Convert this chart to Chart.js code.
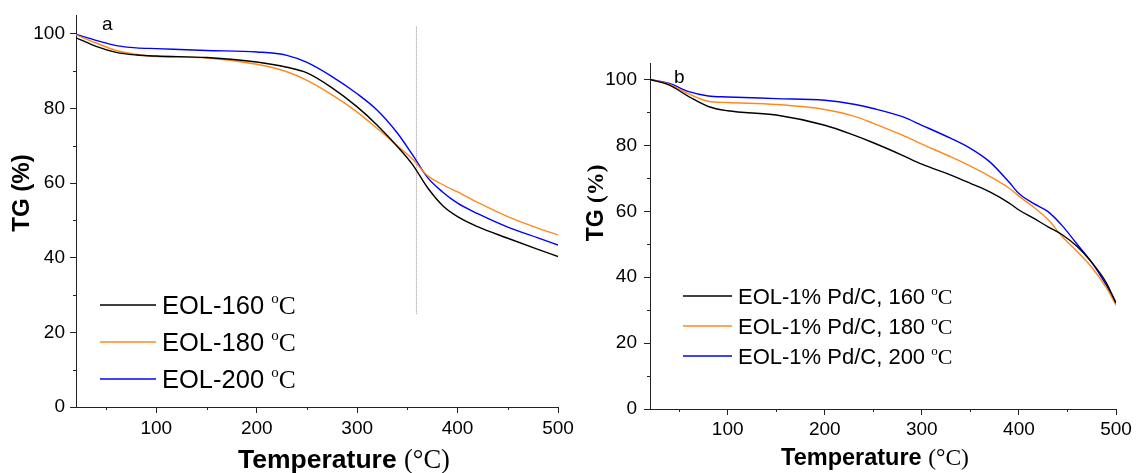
<!DOCTYPE html>
<html>
<head>
<meta charset="utf-8">
<script src="https://cdn.jsdelivr.net/npm/chart.js@4.4.1/dist/chart.umd.min.js"></script>
<style>
  html, body { margin: 0; padding: 0; background: #fff; overflow: hidden; }
  #wrap { position: relative; width: 1137px; height: 473px; }
  canvas { position: absolute; top: 0; }
  #ca { left: 0; }
  #cb { left: 575px; }
</style>
</head>
<body>
<div id="wrap">
  <canvas id="ca" width="575" height="473"></canvas>
  <canvas id="cb" width="562" height="473"></canvas>
</div>
<script>
// ---- Panel a: TG curves of EOL samples ----
const tempA = [20, 40, 60, 80, 100, 150, 200, 230, 250, 275, 300, 320, 340, 355, 370, 385, 400, 420, 450, 480, 500];
const tgA160 = [98.9, 96.6, 95.0, 94.3, 94.0, 93.6, 92.4, 91.0, 89.5, 85.5, 80.4, 75.5, 69.8, 65.0, 58.8, 54.0, 51.0, 48.3, 45.2, 42.2, 40.3];
const tgA180 = [99.7, 97.5, 95.5, 94.5, 93.9, 93.5, 91.8, 89.8, 87.5, 83.6, 79.0, 74.6, 70.0, 66.4, 62.0, 59.6, 57.6, 54.8, 51.0, 47.9, 46.1];
const tgA200 = [99.8, 98.2, 96.8, 96.2, 96.0, 95.5, 95.1, 94.2, 92.3, 88.5, 83.9, 79.5, 73.4, 67.6, 61.5, 57.6, 54.6, 51.8, 48.2, 45.3, 43.4];
const markerTemp = 359;
const markerRange = [25, 102];

// ---- Panel b: TG curves of EOL-1% Pd/C samples ----
const tempB = [20, 40, 60, 80, 100, 150, 200, 230, 250, 280, 300, 330, 350, 370, 390, 400, 415, 430, 445, 460, 475, 490, 500];
const tgB160 = [100, 98.3, 94.8, 91.8, 90.5, 89.2, 86.1, 83.1, 80.8, 77.0, 74.3, 71.0, 68.5, 65.9, 62.5, 60.4, 57.9, 55.3, 52.8, 49.3, 44.5, 38.3, 32.1];
const tgB180 = [100, 98.5, 95.6, 93.4, 93.0, 92.4, 90.9, 88.9, 86.7, 83.1, 80.4, 76.5, 73.7, 70.6, 67.0, 64.6, 61.3, 57.5, 52.2, 47.8, 43.0, 36.8, 31.5];
const tgB200 = [100, 98.8, 96.3, 95.0, 94.7, 94.2, 93.7, 92.5, 91.2, 88.7, 86.1, 82.1, 79.1, 75.0, 68.8, 65.4, 62.4, 59.9, 55.5, 50.0, 44.5, 37.6, 32.3];

const xTicks = [100, 200, 300, 400, 500];
const xMinor = [50, 150, 250, 350, 450];
const yTicks = [0, 20, 40, 60, 80, 100];
const yMinor = [10, 30, 50, 70, 90];

const labelsA = ['EOL-160', 'EOL-180', 'EOL-200'];
const labelsB = ['EOL-1% Pd/C, 160', 'EOL-1% Pd/C, 180', 'EOL-1% Pd/C, 200'];
const colors = ['#000000', '#ff8a1c', '#0000ff'];

const SANS = '"Liberation Sans", Arial, sans-serif';
const SERIF = '"Liberation Serif", "Times New Roman", serif';
const AXIS = '#222';

function pts(xs, ys) { return xs.map((x, i) => ({ x, y: ys[i] })); }

// draw a row of text pieces with individual fonts / vertical shifts
function drawRuns(ctx, runs, x, y, align) {
  let total = 0;
  runs.forEach(r => { ctx.font = r.font; r.w = ctx.measureText(r.text).width; total += r.w; });
  let cx = align === 'center' ? x - total / 2 : x;
  ctx.textBaseline = 'alphabetic';
  ctx.textAlign = 'left';
  runs.forEach(r => { ctx.font = r.font; ctx.fillText(r.text, cx, y + (r.dy || 0)); cx += r.w; });
}

function degC(size) {
  return [
    { text: ' ', font: size + 'px ' + SANS },
    { text: 'o', font: Math.round(size * 0.6) + 'px ' + SERIF, dy: -size * 0.42 },
    { text: 'C', font: size + 'px ' + SERIF }
  ];
}

// minor ticks, legend, panel letter and axis titles
const decoPlugin = {
  id: 'deco',
  afterDraw(chart, args, o) {
    const ctx = chart.ctx;
    const xs = chart.scales.x, ys = chart.scales.y;
    const a = chart.chartArea;
    ctx.save();
    ctx.strokeStyle = AXIS;
    ctx.lineWidth = 1;
    ctx.beginPath();
    xMinor.forEach(v => {
      const px = Math.round(xs.getPixelForValue(v)) + 0.5;
      ctx.moveTo(px, a.bottom); ctx.lineTo(px, a.bottom + 3);
    });
    yMinor.forEach(v => {
      const py = Math.round(ys.getPixelForValue(v)) + 0.5;
      ctx.moveTo(a.left, py); ctx.lineTo(a.left - 3, py);
    });
    ctx.stroke();

    ctx.fillStyle = '#000';
    // panel letter
    ctx.font = o.letterSize + 'px ' + SANS;
    ctx.textBaseline = 'alphabetic';
    ctx.fillText(o.letter, o.letterX, o.letterY);

    // legend
    o.legend.labels.forEach((lab, i) => {
      const y = o.legend.y0 + i * o.legend.dy;
      ctx.strokeStyle = colors[i];
      ctx.lineWidth = 1.5;
      ctx.beginPath();
      ctx.moveTo(o.legend.x0, y); ctx.lineTo(o.legend.x1, y);
      ctx.stroke();
      ctx.fillStyle = '#000';
      drawRuns(ctx, [{ text: lab, font: o.legend.size + 'px ' + SANS }].concat(degC(o.legend.size)),
               o.legend.tx, y + o.legend.size * 0.36, 'left');
    });

    // x title
    const xt = o.xTitle;
    drawRuns(ctx, [
      { text: 'Temperature ', font: 'bold ' + xt.size + 'px ' + SANS },
      { text: '(\u00B0C)', font: xt.size + 'px ' + SERIF }
    ], xt.x, xt.y, 'center');

    // y title (rotated)
    const yt = o.yTitle;
    ctx.save();
    ctx.translate(yt.x, yt.y);
    ctx.rotate(-Math.PI / 2);
    drawRuns(ctx, [
      { text: 'TG ', font: 'bold ' + yt.size + 'px ' + SANS },
      { text: '(%)', font: yt.pctFont }
    ], 0, 0, 'center');
    ctx.restore();
    ctx.restore();
  }
};

function makePanel(id, temps, series, labels, cfg) {
  const datasets = series.map((s, i) => ({
    label: labels[i],
    data: pts(temps, s),
    borderColor: colors[i],
    borderWidth: 1.4,
    pointRadius: 0,
    fill: false,
    cubicInterpolationMode: 'monotone'
  }));
  if (cfg.marker) {
    datasets.push({
      label: 'marker',
      data: [{ x: markerTemp, y: markerRange[0] }, { x: markerTemp, y: markerRange[1] }],
      borderColor: '#8a8a8a',
      borderWidth: 1,
      borderDash: [1, 1],
      pointRadius: 0,
      fill: false
    });
  }
  return new Chart(document.getElementById(id), {
    type: 'line',
    data: { datasets },
    options: {
      responsive: false,
      animation: false,
      devicePixelRatio: 1,
      layout: { padding: { top: cfg.top, right: cfg.right, left: 0, bottom: 0 } },
      plugins: { legend: { display: false }, tooltip: { enabled: false }, deco: cfg.deco },
      scales: {
        x: {
          type: 'linear', min: 20, max: 500,
          ticks: { stepSize: 100, color: '#000', padding: cfg.xPad,
                   font: { family: SANS, size: cfg.tickSize }, maxRotation: 0 },
          afterBuildTicks: s => { s.ticks = xTicks.map(v => ({ value: v })); },
          afterFit: s => { s.height = cfg.xH; s.paddingLeft = 0; s.paddingRight = 0; },
          grid: { drawOnChartArea: false, drawTicks: true, tickLength: 6, color: AXIS },
          border: { color: AXIS, width: 1 }
        },
        y: {
          min: 0, max: 105,
          ticks: { stepSize: 20, color: '#000', padding: cfg.yPad,
                   font: { family: SANS, size: cfg.tickSize } },
          afterBuildTicks: s => { s.ticks = yTicks.map(v => ({ value: v })); },
          afterFit: s => { s.width = cfg.yW; s.paddingTop = 0; s.paddingBottom = 0; },
          grid: { drawOnChartArea: false, drawTicks: true, tickLength: 6, color: AXIS },
          border: { color: AXIS, width: 1 }
        }
      }
    },
    plugins: [decoPlugin]
  });
}

makePanel('ca', tempA, [tgA160, tgA180, tgA200], labelsA, {
  top: 15, right: 17, xH: 66, yW: 76, xPad: 4, yPad: 5, tickSize: 19, marker: true,
  deco: {
    letter: 'a', letterSize: 19, letterX: 102, letterY: 30,
    legend: { labels: labelsA, x0: 100, x1: 156, tx: 162, y0: 305, dy: 37, size: 25.5 },
    xTitle: { x: 344, y: 468, size: 26.5 },
    yTitle: { x: 29, y: 193, size: 24, pctFont: 'bold 24px ' + SANS }
  }
});

makePanel('cb', tempB, [tgB160, tgB180, tgB200], labelsB, {
  top: 63, right: 21, xH: 64, yW: 75, xPad: 3, yPad: 7, tickSize: 19, marker: false,
  deco: {
    letter: 'b', letterSize: 19, letterX: 99, letterY: 83,
    legend: { labels: labelsB, x0: 108, x1: 157, tx: 163, y0: 296, dy: 30, size: 22 },
    xTitle: { x: 300, y: 465, size: 23.5 },
    yTitle: { x: 28, y: 203, size: 23, pctFont: 'bold 23px ' + SERIF }
  }
});
</script>
</body>
</html>
